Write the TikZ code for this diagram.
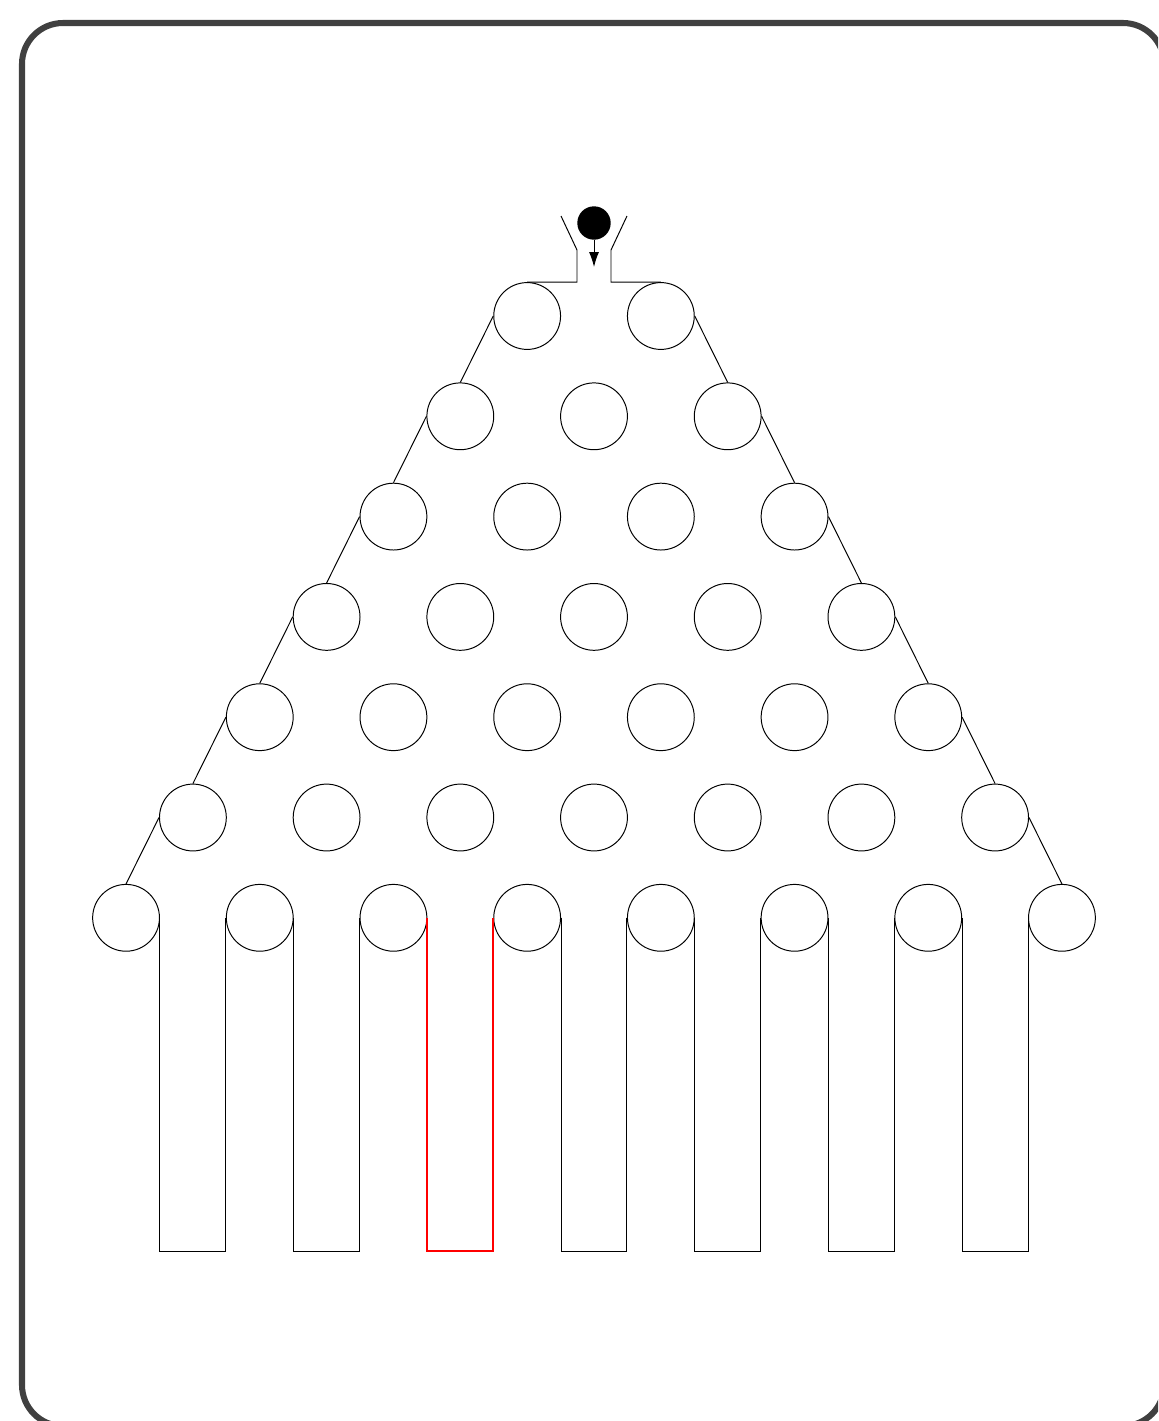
\documentclass[tikz,border=0pt]{standalone}
\usetikzlibrary{arrows.meta}
\definecolor{framegray}{HTML}{404040}
\begin{document}
\begin{tikzpicture}[x=0.025cm,y=-0.025cm,
  peg/.style={circle,draw,line width=0.7pt,minimum size=1.67cm,inner sep=0pt},
  wall/.style={line width=0.7pt},
  hotbin/.style={line width=1.4pt,red},
  ballstyle/.style={circle,fill=black,minimum size=0.835cm,inner sep=0pt},
  frameline/.style={line width=4.3pt,framegray,rounded corners=1.025cm}]
\useasboundingbox (0,0) rectangle (1158,1421);
\clip (0,0) rectangle (1158,1421);
\draw[frameline] (22,23) rectangle (1164,1426);
% pegs
\foreach \r in {1,...,7}{
  \foreach \k in {0,...,\r}{
    \node[peg] (p\r-\k) at ({594+(\k-\r/2)*133.7},{316+(\r-1)*100.3}) {};
  }
}
% side walls
\foreach \r [evaluate=\r as \n using int(\r+1)] in {1,...,6}{
  \draw[wall] (p\r-0.west) -- (p\n-0.north);
  \draw[wall] (p\r-\r.east) -- (p\n-\n.north);
}
% bins
\coordinate (bot) at (0,1251);
\foreach \k [evaluate=\k as \j using int(\k+1)] in {0,1,3,4,5,6}{
  \draw[wall] (p7-\k.east) -- (p7-\k.east |- bot) -- (p7-\j.west |- bot) -- (p7-\j.west);
}
\draw[hotbin] (p7-2.east) -- (p7-2.east |- bot) -- (p7-3.west |- bot) -- (p7-3.west);
% funnel
\coordinate (fl) at (577,250);
\coordinate (flt) at (561,216);
\coordinate (fr) at (611,250);
\coordinate (frt) at (627,216);
\draw[wall] (p1-0.north) -| (fl) -- (flt);
\draw[wall] (p1-1.north) -| (fr) -- (frt);
% ball
\node[ballstyle] (ball) at (594,223) {};
\coordinate (arrowend) at (594,267);
\draw[wall,-{Latex[length=10.5pt,width=7pt]}] (ball.south) -- (arrowend);
\end{tikzpicture}
\end{document}
